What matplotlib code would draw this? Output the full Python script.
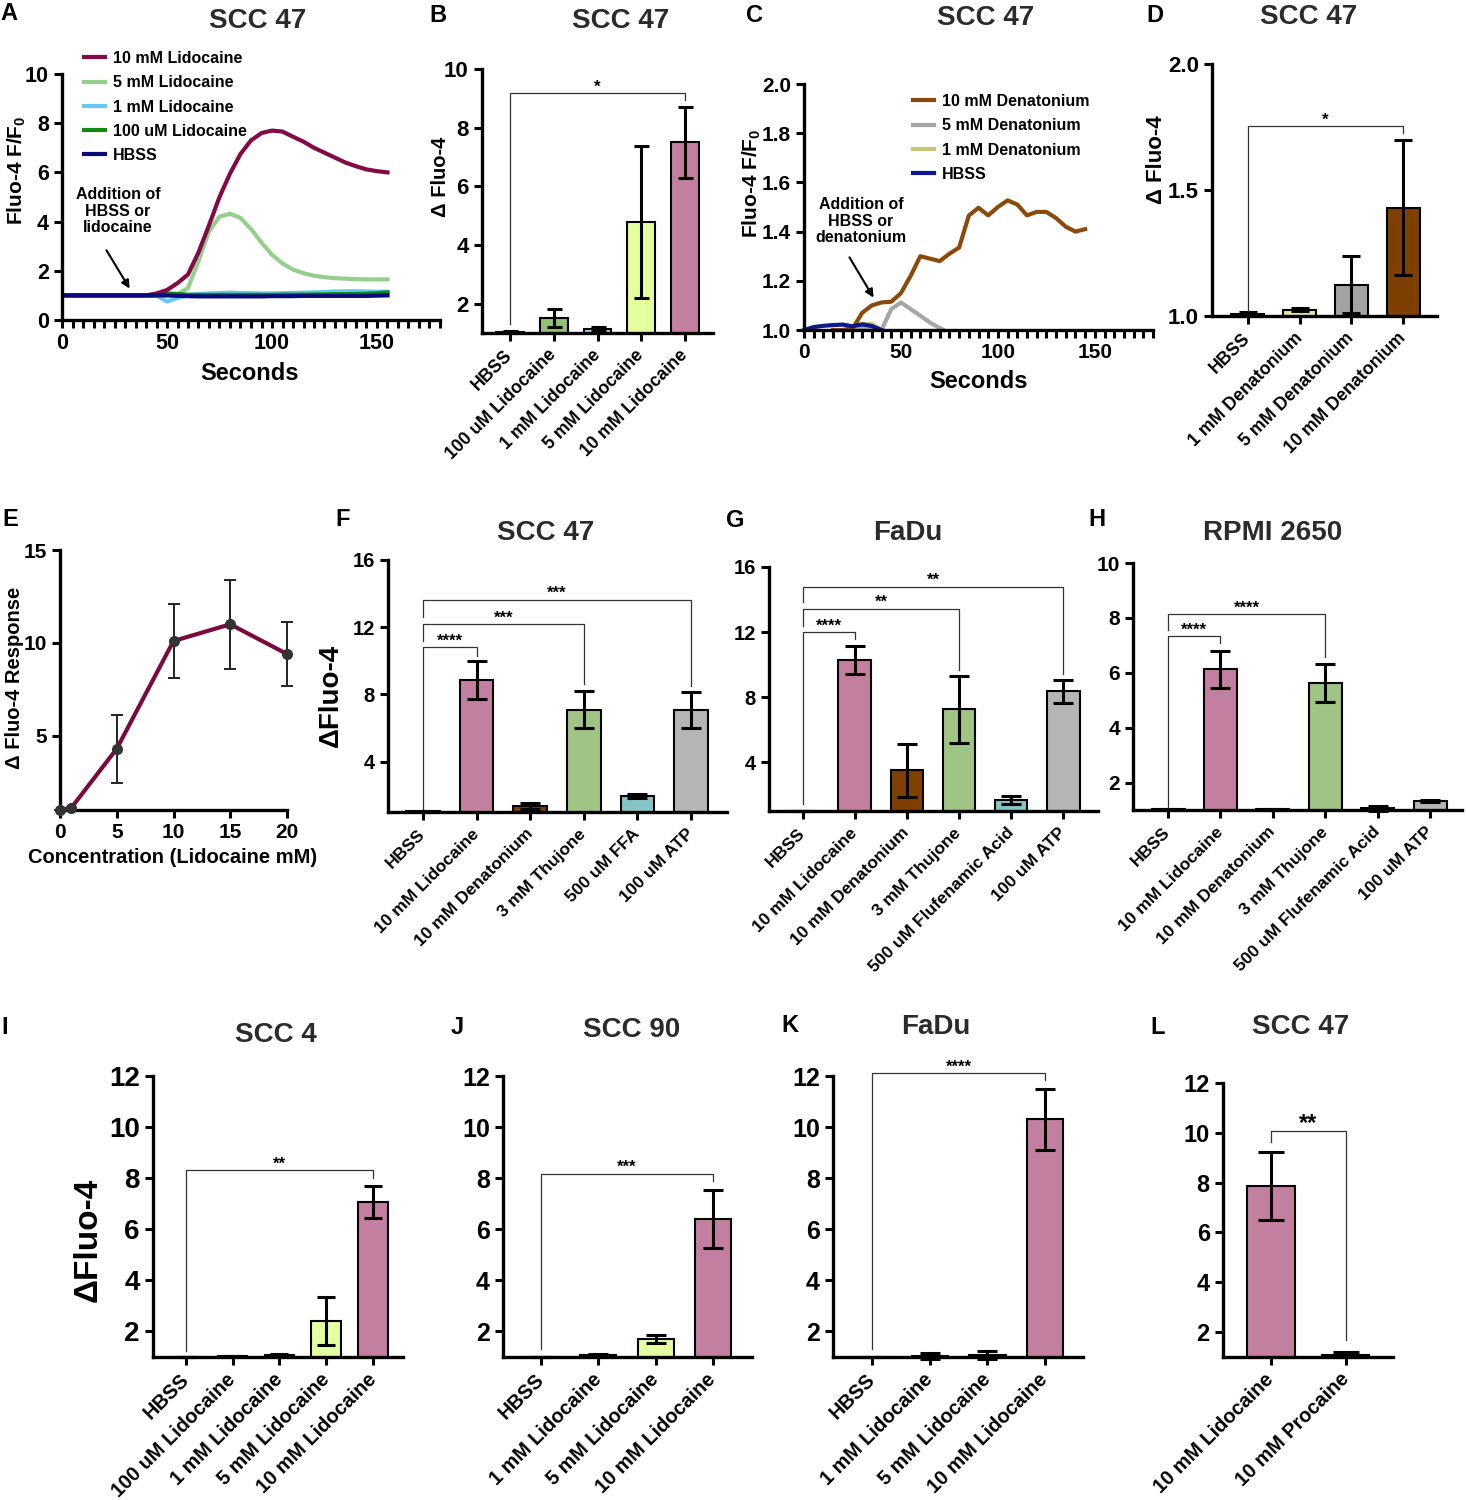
import numpy as np
import matplotlib
matplotlib.use("Agg")
import matplotlib.pyplot as plt
from matplotlib.ticker import MultipleLocator, FixedLocator

plt.rcParams['font.family'] = ['Liberation Sans', 'DejaVu Sans']
plt.rcParams['font.weight'] = 'bold'
plt.rcParams['mathtext.fontset'] = 'custom'
plt.rcParams['mathtext.rm'] = 'Liberation Sans:bold'
plt.rcParams['mathtext.bf'] = 'Liberation Sans:bold'

# ---------------- data ----------------
# A : time course, lidocaine (every 5 s)
A_time = list(range(0, 160, 5))
A_lido10 = [1.0, 1.0, 1.0, 1.0, 1.0, 1.0, 1.0, 1.0, 1.0, 1.08, 1.22, 1.5, 1.85, 2.75, 3.85, 5.0,
            5.95, 6.75, 7.3, 7.6, 7.7, 7.66, 7.45, 7.25, 7.0, 6.8, 6.6, 6.4, 6.25, 6.12, 6.05, 6.0]
A_lido5 = [1.0, 1.0, 1.0, 1.0, 1.0, 1.0, 1.0, 1.0, 1.0, 1.0, 1.0, 1.05, 1.3, 2.4, 3.6, 4.2,
           4.32, 4.15, 3.7, 3.15, 2.65, 2.3, 2.05, 1.9, 1.8, 1.74, 1.7, 1.68, 1.66, 1.65, 1.65, 1.65]
A_lido1 = [1.0, 1.0, 1.0, 1.0, 1.0, 1.0, 1.0, 1.0, 1.0, 1.0, 0.75, 0.9, 1.0, 1.06, 1.08, 1.1,
           1.11, 1.1, 1.09, 1.08, 1.08, 1.09, 1.1, 1.11, 1.12, 1.14, 1.16, 1.17, 1.17, 1.16, 1.15, 1.15]
A_lido01 = [1.0, 1.0, 1.0, 1.0, 1.0, 1.0, 1.0, 1.0, 1.0, 1.0, 1.08, 1.06, 1.03, 1.02, 1.02, 1.02,
            1.02, 1.02, 1.02, 1.02, 1.02, 1.03, 1.03, 1.03, 1.04, 1.04, 1.05, 1.05, 1.06, 1.07, 1.09, 1.12]
A_hbss = [1.0, 1.0, 1.0, 1.0, 1.0, 1.0, 1.0, 1.0, 1.0, 1.0, 1.0, 0.98, 0.97, 0.96, 0.96, 0.96,
          0.96, 0.96, 0.96, 0.96, 0.97, 0.97, 0.97, 0.98, 0.98, 0.98, 0.98, 0.98, 0.98, 0.98, 0.99, 1.0]

# C : time course, denatonium
C_t10 = [15, 20, 25, 30, 35, 40, 45, 50, 55, 60, 65, 70, 75, 80, 85, 90, 95, 100, 105, 110,
         115, 120, 125, 130, 135, 140, 145]
C_den10 = [1.0, 1.0, 1.005, 1.07, 1.10, 1.112, 1.115, 1.15, 1.22, 1.30, 1.29, 1.28, 1.31, 1.335,
           1.465, 1.497, 1.466, 1.50, 1.527, 1.51, 1.466, 1.48, 1.48, 1.455, 1.42, 1.40, 1.41]
C_t5 = [20, 25, 30, 35, 40, 45, 50, 55, 60, 65, 70, 72]
C_den5 = [1.0, 1.005, 1.01, 1.01, 1.0, 1.085, 1.112, 1.085, 1.058, 1.03, 1.008, 1.0]
C_t1 = [25, 30, 35, 40]
C_den1 = [1.01, 1.025, 1.025, 1.0]
C_th = [0, 5, 10, 15, 20, 25, 30, 35, 40]
C_hbss = [1.0, 1.012, 1.017, 1.02, 1.022, 1.015, 1.023, 1.016, 1.0]

B_labels = ['HBSS', '100 uM Lidocaine', '1 mM Lidocaine', '5 mM Lidocaine', '10 mM Lidocaine']
B_vals = [1.05, 1.52, 1.15, 4.78, 7.5]
B_errs = [0.02, 0.3, 0.05, 2.6, 1.2]

D_labels = ['HBSS', '1 mM Denatonium', '5 mM Denatonium', '10 mM Denatonium']
D_vals = [1.008, 1.025, 1.125, 1.43]
D_errs = [0.008, 0.005, 0.113, 0.268]

E_conc = [0, 1, 5, 10, 15, 20]
E_vals = [1.0, 1.12, 4.3, 10.1, 11.0, 9.4]
E_errs = [0, 0, 1.83, 2.0, 2.4, 1.7]

F_labels = ['HBSS', '10 mM Lidocaine', '10 mM Denatonium', '3 mM Thujone', '500 uM FFA', '100 uM ATP']
F_vals = [1.05, 8.85, 1.35, 7.1, 1.96, 7.05]
F_errs = [0.03, 1.13, 0.2, 1.1, 0.1, 1.07]

G_labels = ['HBSS', '10 mM Lidocaine', '10 mM Denatonium', '3 mM Thujone',
            '500 uM Flufenamic Acid', '100 uM ATP']
G_vals = [1.02, 10.3, 3.5, 7.25, 1.68, 8.35]
G_errs = [0.01, 0.85, 1.63, 2.04, 0.22, 0.72]

H_labels = G_labels
H_vals = [1.02, 6.12, 1.02, 5.62, 1.06, 1.33]
H_errs = [0.01, 0.69, 0.01, 0.7, 0.08, 0.04]

I_labels = B_labels
I_vals = [1.0, 1.03, 1.08, 2.4, 7.07]
I_errs = [0, 0.01, 0.05, 0.93, 0.63]

J_labels = ['HBSS', '1 mM Lidocaine', '5 mM Lidocaine', '10 mM Lidocaine']
J_vals = [1.0, 1.07, 1.7, 6.4]
J_errs = [0, 0.03, 0.17, 1.13]

K_labels = J_labels
K_vals = [1.0, 1.03, 1.08, 10.3]
K_errs = [0, 0.12, 0.14, 1.2]

L_labels = ['10 mM Lidocaine', '10 mM Procaine']
L_vals = [7.85, 1.1]
L_errs = [1.36, 0.12]

# significance brackets: (from, to, height, left leg end, right leg end, stars)
B_sig = [(0, 4, 9.18, 1.32, 8.93, '*')]
D_sig = [(0, 3, 1.755, 1.02, 1.725, '*')]
F_sig = [(0, 1, 10.8, 1.2, 10.3, '****'), (0, 3, 12.2, 11.2, 8.6, '***'), (0, 5, 13.64, 12.6, 8.5, '***')]
G_sig = [(0, 1, 12.0, 1.4, 11.55, '****'), (0, 3, 13.44, 12.35, 9.65, '**'), (0, 5, 14.8, 13.85, 9.44, '**')]
H_sig = [(0, 1, 7.33, 1.1, 7.08, '****'), (0, 3, 8.14, 7.57, 6.56, '****')]
I_sig = [(0, 4, 8.31, 1.25, 8.0, '**')]
J_sig = [(0, 3, 8.18, 1.3, 7.88, '***')]
K_sig = [(0, 3, 12.13, 1.3, 11.84, '****')]
L_sig = [(0, 1, 10.07, 9.63, 1.67, '**')]

pink = '#c27f9f'
lgreen = '#93bf78'
lblue = '#a6d8ee'
lyellow = '#e4ffa0'
brown = '#7f3f00'

# ---------------- figure ----------------
W, H = 1466, 1500
fig = plt.figure(figsize=(W / 100, H / 100), dpi=100)


def add_ax(l, t, r, b):
    return fig.add_axes([l / W, 1 - b / H, (r - l) / W, (b - t) / H])


def ftext(x, y, s, **kw):
    fig.text(x / W, 1 - y / H, s, ha=kw.pop('ha', 'center'), va=kw.pop('va', 'center'), **kw)


def style(ax, fs):
    for s in ['top', 'right']:
        ax.spines[s].set_visible(False)
    for s in ['left', 'bottom']:
        ax.spines[s].set_linewidth(2.4)
    ax.tick_params(which='both', direction='out', length=6, width=2.2, labelsize=fs)


def bar_panel(ax, labels, vals, errs, colors, ylim, yticks, xlim, cap, fs, lfs, sig, sfs=12):
    x = np.arange(len(vals))
    ax.bar(x, vals, width=0.63, color=colors, edgecolor='black', linewidth=1.5, zorder=2)
    ax.errorbar(x, vals, yerr=errs, fmt='none', ecolor='black', elinewidth=2.2,
                capsize=cap, capthick=2.2, zorder=3, clip_on=False)
    style(ax, fs)
    ax.set_ylim(*ylim)
    ax.set_yticks(yticks)
    ax.set_xlim(*xlim)
    ax.set_xticks(x)
    ax.set_xticklabels(labels, rotation=45, ha='right', va='center', rotation_mode='anchor', fontsize=lfs)
    ax.tick_params(axis='x', pad=8)
    for i, j, y, yl, yr, txt in sig:
        ax.plot([i, i, j, j], [yl, y, y, yr], color='#333333', lw=0.9, clip_on=False, zorder=4)
        ax.annotate(txt, xy=((i + j) / 2, y), xytext=(0, 1), textcoords='offset points',
                    ha='center', va='baseline', fontsize=sfs, annotation_clip=False)


# ---- A ----
axA = add_ax(62, 74, 440, 320)
axA.plot(A_time, A_lido5, color='#95cf8c', lw=3, label='5 mM Lidocaine')
axA.plot(A_time, A_lido1, color='#62c8f5', lw=3, label='1 mM Lidocaine')
axA.plot(A_time, A_lido01, color='#108a10', lw=3, label='100 uM Lidocaine')
axA.plot(A_time, A_lido10, color='#820a45', lw=3, label='10 mM Lidocaine')
axA.plot(A_time, A_hbss, color='#0a0a7a', lw=3, label='HBSS')
style(axA, 15.5)
axA.set_xlim(0, 180)
axA.set_ylim(0, 10)
axA.xaxis.set_major_locator(FixedLocator([0, 50, 100, 150]))
axA.xaxis.set_minor_locator(MultipleLocator(5))
axA.set_yticks([0, 2, 4, 6, 8, 10])
h, l = axA.get_legend_handles_labels()
order = [3, 0, 1, 2, 4]
axA.legend([h[k] for k in order], [l[k] for k in order], loc='upper left',
           bbox_to_anchor=(84 / W, 1 - 51 / H), bbox_transform=fig.transFigure, frameon=False,
           fontsize=11.5, handlelength=1.3, handletextpad=0.5, labelspacing=0.58,
           borderaxespad=0, borderpad=0)
axA.annotate('', xy=(32.9, 1.18), xytext=(20.5, 2.93),
             arrowprops=dict(arrowstyle='-|>', color='black', lw=1.5, mutation_scale=12))
axA.text(26.7, 4.43, 'Addition of\nHBSS or\nlidocaine', ha='center', va='center',
         fontsize=11.5, linespacing=1.15)
ftext(17, 170, 'Fluo-4 F/F$_0$', rotation=90, fontsize=15)
ftext(250, 373, 'Seconds', fontsize=17)

# ---- B ----
axB = add_ax(482, 69, 713, 333)
bar_panel(axB, B_labels, B_vals, B_errs, ['white', lgreen, lblue, lyellow, pink],
          (1, 10), [2, 4, 6, 8, 10], (-0.64, 4.64), 5.4, 16, 12.8, B_sig)
ftext(441, 177, 'Δ Fluo-4', rotation=90, fontsize=14.5)

# ---- C ----
axC = add_ax(804, 84, 1153, 330)
axC.plot(C_t5, C_den5, color='#a6a6a6', lw=3, clip_on=False, label='5 mM Denatonium')
axC.plot(C_t1, C_den1, color='#c5c67a', lw=3, clip_on=False, label='1 mM Denatonium')
axC.plot(C_t10, C_den10, color='#8b4a0c', lw=3, clip_on=False, label='10 mM Denatonium')
axC.plot(C_th, C_hbss, color='#0d1a8c', lw=3, clip_on=False, label='HBSS')
style(axC, 15)
axC.set_xlim(0, 180)
axC.set_ylim(1.0, 2.0)
axC.xaxis.set_major_locator(FixedLocator([0, 50, 100, 150]))
axC.xaxis.set_minor_locator(MultipleLocator(5))
axC.set_yticks([1.0, 1.2, 1.4, 1.6, 1.8, 2.0])
axC.set_yticklabels(['1.0', '1.2', '1.4', '1.6', '1.8', '2.0'])
h, l = axC.get_legend_handles_labels()
order = [2, 0, 1, 3]
axC.legend([h[k] for k in order], [l[k] for k in order], loc='upper left',
           bbox_to_anchor=(913 / W, 1 - 94 / H), bbox_transform=fig.transFigure, frameon=False,
           fontsize=11.5, handlelength=1.3, handletextpad=0.5, labelspacing=0.58,
           borderaxespad=0, borderpad=0)
axC.annotate('', xy=(36.6, 1.122), xytext=(22.7, 1.305),
             arrowprops=dict(arrowstyle='-|>', color='black', lw=1.5, mutation_scale=12))
axC.text(29.4, 1.443, 'Addition of\nHBSS or\ndenatonium', ha='center', va='center',
         fontsize=11.5, linespacing=1.15)
ftext(752, 183, 'Fluo-4 F/F$_0$', rotation=90, fontsize=15)
ftext(979, 382, 'Seconds', fontsize=17)

# ---- D ----
axD = add_ax(1212, 64, 1437, 316)
bar_panel(axD, D_labels, D_vals, D_errs, ['white', '#e6e6a0', '#a3a3a3', brown],
          (1.0, 2.0), [1.0, 1.5, 2.0], (-0.69, 3.65), 6.5, 16, 12.8, D_sig)
axD.set_yticklabels(['1.0', '1.5', '2.0'])
ftext(1157, 160, 'Δ Fluo-4', rotation=90, fontsize=16)

# ---- E ----
axE = add_ax(60, 550, 287, 810)
axE.errorbar(E_conc, E_vals, yerr=E_errs, color='#7b0a3c', lw=3, ecolor='#222222', elinewidth=1.4,
             capsize=4.5, capthick=1.4, marker='o', markersize=7, markerfacecolor='#333333',
             markeredgecolor='#333333', clip_on=False, zorder=3)
style(axE, 15)
axE.set_xlim(0, 20)
axE.set_ylim(1, 15)
axE.set_xticks([0, 5, 10, 15, 20])
axE.set_yticks([5, 10, 15])
ftext(15, 678, 'Δ Fluo-4 Response', rotation=90, fontsize=14.5)
ftext(173, 858, 'Concentration (Lidocaine mM)', fontsize=14.5)

# ---- F ----
axF = add_ax(388, 560, 727, 812)
bar_panel(axF, F_labels, F_vals, F_errs, ['white', pink, brown, '#a0c484', '#87c4c6', '#b5b5b5'],
          (1, 16), [4, 8, 12, 16], (-0.65, 5.67), 7.2, 14.5, 12.5, F_sig)
ftext(331, 695, 'ΔFluo-4', rotation=90, fontsize=20)

# ---- G ----
axG = add_ax(769, 567, 1098, 811)
bar_panel(axG, G_labels, G_vals, G_errs, ['white', pink, brown, '#a0c484', '#87c4c6', '#b5b5b5'],
          (1, 16), [4, 8, 12, 16], (-0.65, 5.67), 7.2, 14.5, 12.5, G_sig)

# ---- H ----
axH = add_ax(1133, 563, 1462, 810)
bar_panel(axH, H_labels, H_vals, H_errs, ['white', pink, brown, '#a0c484', '#87c4c6', '#b5b5b5'],
          (1, 10), [2, 4, 6, 8, 10], (-0.67, 5.61), 7.2, 15, 12.5, H_sig)

# ---- I ----
axI = add_ax(153, 1076, 403, 1357)
bar_panel(axI, I_labels, I_vals, I_errs, ['white', lgreen, lblue, lyellow, pink],
          (1, 12), [2, 4, 6, 8, 10, 12], (-0.7, 4.64), 6.8, 20, 14.3, I_sig)
ftext(88, 1240, 'ΔFluo-4', rotation=90, fontsize=24)

# ---- J ----
axJ = add_ax(503, 1076, 752, 1357)
bar_panel(axJ, J_labels, J_vals, J_errs, ['white', lblue, lyellow, pink],
          (1, 12), [2, 4, 6, 8, 10, 12], (-0.66, 3.68), 7.5, 18, 14.3, J_sig)

# ---- K ----
axK = add_ax(833, 1076, 1083, 1357)
bar_panel(axK, K_labels, K_vals, K_errs, ['white', lblue, lyellow, pink],
          (1, 12), [2, 4, 6, 8, 10, 12], (-0.68, 3.66), 7.5, 18, 14.3, K_sig)

# ---- L ----
axL = add_ax(1223, 1083, 1393, 1357)
bar_panel(axL, L_labels, L_vals, L_errs, [pink, lblue],
          (1, 12), [2, 4, 6, 8, 10, 12], (-0.64, 1.63), 9.3, 17, 14.3, L_sig, sfs=17)

# ---- titles and panel letters (positioned by baseline) ----
titles = [(258, 28, 'SCC 47'), (621, 28, 'SCC 47'), (986, 25, 'SCC 47'), (1309, 24, 'SCC 47'),
          (546, 540, 'SCC 47'), (908, 540, 'FaDu'), (1273, 540, 'RPMI 2650'),
          (276, 1042, 'SCC 4'), (632, 1037, 'SCC 90'), (936, 1034, 'FaDu'), (1301, 1034, 'SCC 47')]
for x, y, s in titles:
    ftext(x, y, s, fontsize=20, color='#2b2b2b', va='baseline')

letters = [(9, 20, 'A'), (438, 22, 'B'), (755, 22, 'C'), (1155, 22, 'D'),
           (10, 526, 'E'), (343, 526, 'F'), (735, 527, 'G'), (1097, 526, 'H'),
           (5, 1034, 'I'), (457, 1034, 'J'), (790, 1032, 'K'), (1158, 1034, 'L')]
for x, y, s in letters:
    ftext(x, y, s, fontsize=17, color='black', va='baseline')

fig.savefig('out.png', dpi=100)
